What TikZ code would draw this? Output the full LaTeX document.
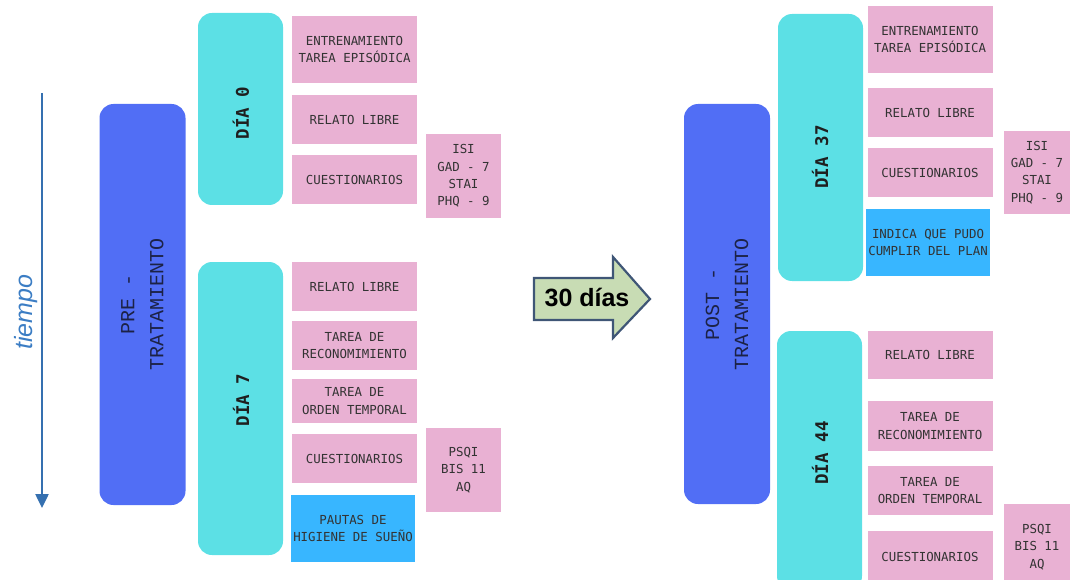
\documentclass[tikz,border=0pt]{standalone}
\usepackage{fontspec}
\setmainfont{Liberation Sans}
\setmonofont{DejaVu Sans Mono}
\newfontfamily\lightmono{Liberation Mono}
\usepackage{xcolor}
\usetikzlibrary{arrows.meta}

\definecolor{phaseblue}{HTML}{516EF5}
\definecolor{phasetext}{HTML}{1C2246}
\definecolor{daycyan}{HTML}{5CE0E5}
\definecolor{taskpink}{HTML}{E9B1D3}
\definecolor{actblue}{HTML}{38B6FF}
\definecolor{timeblue}{HTML}{3B7DC4}
\definecolor{gapfill}{HTML}{C8DCB4}
\definecolor{gapline}{HTML}{3F5676}

\begin{document}
\begin{tikzpicture}[x=1pt, y=-1pt,
  phase/.style={rounded corners=14pt, fill=phaseblue, rotate=90, inner sep=0pt,
                minimum height=86pt, align=center, text=phasetext,
                font=\lightmono\fontsize{20}{29}\selectfont},
  daybox/.style={rounded corners=14pt, fill=daycyan, minimum width=85pt, inner sep=0pt},
  daylabel/.style={rotate=90, text=black!88,
                   font=\ttfamily\bfseries\fontsize{17.5}{20}\selectfont},
  task/.style={fill=taskpink, minimum width=125pt, inner sep=0pt, align=center,
               text=black!80, font=\ttfamily\fontsize{12.4}{17.4}\selectfont},
  action/.style={task, fill=actblue},
  testbox/.style={task, minimum height=84pt},
]

  \useasboundingbox (0,0) rectangle (1073,580);
  \begin{scope}
  \clip (0,0) rectangle (1073,580);

  %--- Time axis -----------------------------------------------------------
  \coordinate (ttop) at (42,93);
  \coordinate (tbot) at (42,508);
  \draw[timeblue!90!black, line width=2.5pt,
        -{Triangle[length=14pt, width=13pt]}] (ttop) -- (tbot);
  \node[rotate=90, text=timeblue, font=\itshape\fontsize{25}{25}\selectfont]
       (tiem) at (26,312) {tiempo};

  %--- Pre treatment -------------------------------------------------------
  \node[phase, minimum width=401pt] (pre) at (142.5,304.5) {PRE -\\TRATAMIENTO};

  \node[daybox, minimum height=192pt] (dia0) at (240.5,109) {};
  \node[daybox, minimum height=293pt] (dia7) at (240.5,408.5) {};
  \node[daylabel] (dia0t) at (241,113) {DÍA 0};
  \node[daylabel] (dia7t) at (241,400) {DÍA 7};

  \foreach \nm/\yc/\boxh/\txt in {
      lentr/49.5/67/{ENTRENAMIENTO\\TAREA EPISÓDICA},
      lrel0/119.5/49/{RELATO LIBRE},
      lcues0/179.5/49/{CUESTIONARIOS},
      lrel7/286.5/49/{RELATO LIBRE},
      lrecon/345.5/49/{TAREA DE\\RECONOMIMIENTO},
      lorden/401/44/{TAREA DE\\ORDEN TEMPORAL},
      lcues7/458.5/49/{CUESTIONARIOS}}
    \node[task, minimum height=\boxh pt] (\nm) at (354.5,\yc) {\txt};
  \node[action, minimum width=124pt, minimum height=67pt] (lpautas) at (353,528.5)
       {PAUTAS DE\\HIGIENE DE SUEÑO};

  \node[testbox, minimum width=75pt] (lisi) at (463.5,176) {ISI\\GAD - 7\\STAI\\PHQ - 9};
  \node[testbox, minimum width=75pt] (lpsqi) at (463.5,470) {PSQI\\BIS 11\\AQ};

  %--- Gap between phases --------------------------------------------------
  \draw[fill=gapfill, draw=gapline, line width=2.2pt, line join=miter]
       (534,278) -- (613,278) -- (613,257) -- (650,299)
       -- (613,338) -- (613,320) -- (534,320) -- cycle;
  \node[font=\bfseries\fontsize{25}{25}\selectfont] (gaptxt) at (587,297) {30 días};

  %--- Post treatment ------------------------------------------------------
  \node[phase, minimum width=400pt] (post) at (727,304) {POST -\\TRATAMIENTO};

  \node[daybox, minimum height=267pt] (dia37) at (820.5,147.5) {};
  \node[daybox, minimum height=259pt] (dia44) at (819.5,460.5) {};
  \node[daylabel] (dia37t) at (820,157) {DÍA 37};
  \node[daylabel] (dia44t) at (820,453) {DÍA 44};

  \foreach \nm/\yc/\boxh/\txt in {
      rentr/39.5/67/{ENTRENAMIENTO\\TAREA EPISÓDICA},
      rrel0/112.5/49/{RELATO LIBRE},
      rcues0/172.5/49/{CUESTIONARIOS},
      rrel44/355/48/{RELATO LIBRE},
      rrecon/426/50/{TAREA DE\\RECONOMIMIENTO},
      rorden/490.5/49/{TAREA DE\\ORDEN TEMPORAL},
      rcues44/557/52/{CUESTIONARIOS}}
    \node[task, minimum height=\boxh pt] (\nm) at (930,\yc) {\txt};
  \node[action, minimum width=124pt, minimum height=67pt] (rindica) at (928,242.5)
       {INDICA QUE PUDO\\CUMPLIR DEL PLAN};

  \node[testbox, minimum width=66pt, minimum height=83pt] (risi) at (1037,172.5)
       {ISI\\GAD - 7\\STAI\\PHQ - 9};
  \node[testbox, minimum width=66pt, minimum height=86pt] (rpsqi) at (1037,547)
       {PSQI\\BIS 11\\AQ};

  \end{scope}

\end{tikzpicture}
\end{document}
